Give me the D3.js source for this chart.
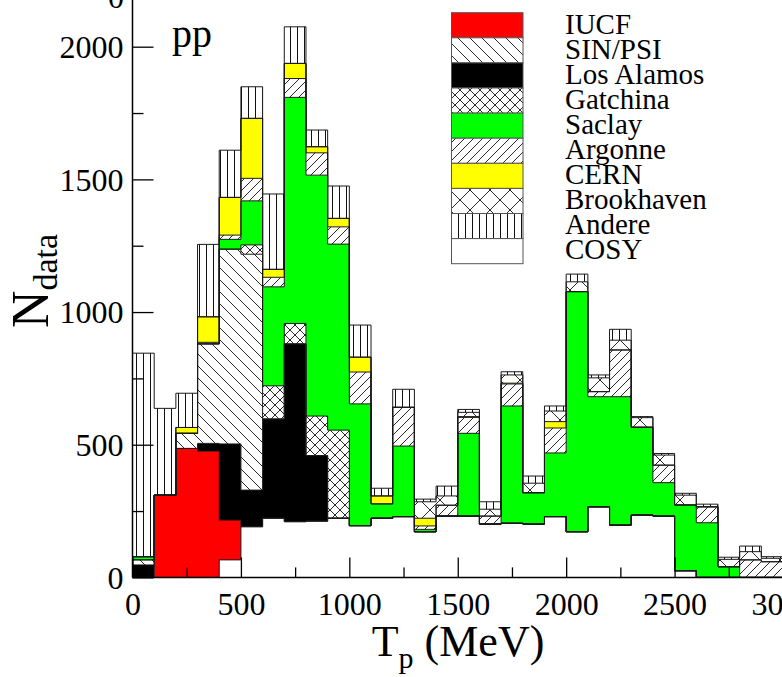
<!DOCTYPE html>
<html>
<head>
<meta charset="utf-8">
<script src="https://cdn.jsdelivr.net/npm/d3@7/dist/d3.min.js"></script>
<style>
  body { margin: 0; background: #fff; }
  svg { display: block; }
  text { font-family: "Liberation Serif", "Times New Roman", serif; fill: #000; }
</style>
</head>
<body>
<svg id="chart" width="782" height="677"></svg>
<script>
// Lower edge of each 100 MeV bin in T_p
const binStarts = [0, 100, 200, 300, 400, 500, 600, 700, 800, 900,
  1000, 1100, 1200, 1300, 1400, 1500, 1600, 1700, 1800, 1900,
  2000, 2100, 2200, 2300, 2400, 2500, 2600, 2700, 2800, 2900];
const binWidth = 100;

// Number of pp data per bin for each laboratory (stacked bottom to top)
const cosy       = [0, 0, 0, 0, 66, 191, 223, 210, 212, 223, 195, 223, 229, 172, 231, 231, 201, 204, 201, 229, 172, 266, 197, 235, 231, 25, 0, 0, 0, 0];
const iucf       = [0, 310, 486, 476, 150, 0, 0, 0, 0, 0, 0, 0, 0, 0, 0, 0, 0, 0, 0, 0, 0, 0, 0, 0, 0, 0, 0, 0, 0, 0];
const losAlamos  = [47, 0, 0, 29, 287, 138, 374, 670, 247, 0, 0, 0, 0, 0, 0, 0, 0, 0, 0, 0, 0, 0, 0, 0, 0, 0, 0, 0, 0, 0];
const sinPsi     = [19, 0, 57, 375, 734, 889, 0, 0, 0, 0, 0, 0, 0, 0, 0, 0, 0, 0, 0, 0, 0, 0, 0, 0, 0, 0, 0, 0, 0, 0];
const gatchina   = [0, 0, 0, 0, 0, 35, 125, 77, 149, 332, 0, 0, 0, 0, 0, 0, 0, 0, 0, 0, 0, 0, 0, 0, 0, 0, 0, 0, 0, 0];
const saclay     = [12, 0, 0, 0, 37, 166, 373, 852, 908, 701, 459, 54, 266, 9, 0, 312, 0, 442, 118, 240, 905, 415, 484, 331, 126, 248, 206, 40, 0, 0];
const argonne    = [0, 0, 0, 6, 16, 85, 36, 71, 84, 65, 120, 0, 146, 13, 41, 60, 30, 83, 0, 94, 0, 19, 176, 0, 66, 0, 60, 0, 66, 59];
const cern       = [0, 0, 22, 96, 142, 226, 30, 57, 23, 32, 56, 30, 0, 29, 0, 3, 0, 3, 0, 24, 0, 0, 0, 0, 0, 0, 0, 0, 0, 0];
const brookhaven = [0, 0, 0, 0, 0, 0, 0, 0, 0, 0, 0, 0, 0, 62, 35, 16, 26, 31, 36, 40, 37, 52, 37, 36, 38, 37, 0, 28, 31, 13];
const andere     = [767, 327, 129, 273, 178, 119, 284, 138, 63, 122, 121, 29, 68, 10, 37, 11, 28, 12, 27, 19, 29, 11, 41, 4, 6, 7, 10, 8, 21, 6];

const stackOrder  = ["COSY", "IUCF", "Los Alamos", "SIN/PSI", "Gatchina", "Saclay", "Argonne", "CERN", "Brookhaven", "Andere"];
const legendOrder = ["IUCF", "SIN/PSI", "Los Alamos", "Gatchina", "Saclay", "Argonne", "CERN", "Brookhaven", "Andere", "COSY"];

const xTicks = [0, 500, 1000, 1500, 2000, 2500, 3000];
const xMinorTicks = [250, 750, 1250, 1750, 2250, 2750];
const yTicks = [0, 500, 1000, 1500, 2000];
const yMinorTicks = [250, 750, 1250, 1750];

const seriesValues = {
  "COSY": cosy, "IUCF": iucf, "Los Alamos": losAlamos, "SIN/PSI": sinPsi,
  "Gatchina": gatchina, "Saclay": saclay, "Argonne": argonne, "CERN": cern,
  "Brookhaven": brookhaven, "Andere": andere
};

const rows = binStarts.map((s, i) => {
  const r = { start: s };
  stackOrder.forEach(k => r[k] = seriesValues[k][i]);
  return r;
});

const svg = d3.select("#chart");
const W = 782, H = 677;
const x = d3.scaleLinear().domain([0, 3000]).range([132.5, 783]);
const y = d3.scaleLinear().domain([0, 2176]).range([577.4, 0]);

// Fill patterns
const defs = svg.append("defs");
function hatch(id, size, pathD, width) {
  const p = defs.append("pattern").attr("id", id)
    .attr("patternUnits", "userSpaceOnUse")
    .attr("width", size).attr("height", size);
  p.append("rect").attr("width", size).attr("height", size).attr("fill", "#fff");
  p.append("path").attr("d", pathD).attr("stroke", "#111")
    .attr("stroke-width", width || 1).attr("fill", "none");
}
function back(s) { return `M0,0 L${s},${s} M${-2},${s - 2} L2,${s + 2} M${s - 2},-2 L${s + 2},2`; }
function fwd(s) { return `M0,${s} L${s},0 M-2,2 L2,-2 M${s - 2},${s + 2} L${s + 2},${s - 2}`; }
function cross(s) { return back(s) + " " + fwd(s); }
hatch("pSin", 12, back(12), 0.9);
hatch("pArg", 9, fwd(9), 0.9);
hatch("pGat", 10, cross(10), 0.9);
hatch("pBnl", 20, cross(20), 0.9);
hatch("pAnd", 7, "M3.5,0 V7", 1);

const fills = {
  "COSY": "#ffffff", "IUCF": "#ff0000", "Los Alamos": "#000000", "SIN/PSI": "url(#pSin)",
  "Gatchina": "url(#pGat)", "Saclay": "#00ff00", "Argonne": "url(#pArg)", "CERN": "#ffff00",
  "Brookhaven": "url(#pBnl)", "Andere": "url(#pAnd)"
};

svg.append("clipPath").attr("id", "plotClip")
  .append("rect").attr("x", 132.5).attr("y", 0).attr("width", 782 - 132.5).attr("height", 578);

const stacked = d3.stack().keys(stackOrder)(rows);

// Step outline points: one per bin plus the closing edge of the last bin
function stepPoints(layer) {
  const pts = layer.map((d, i) => ({ x: binStarts[i], y0: d[0], y1: d[1] }));
  const last = layer[layer.length - 1];
  pts.push({ x: binStarts[binStarts.length - 1] + binWidth, y0: last[0], y1: last[1] });
  return pts;
}

const area = d3.area().curve(d3.curveStepAfter)
  .x(d => x(d.x)).y0(d => y(d.y0)).y1(d => y(d.y1));
const line = d3.line().curve(d3.curveStepAfter)
  .x(d => x(d.x)).y(d => y(d.y1));

const plot = svg.append("g").attr("clip-path", "url(#plotClip)");
plot.selectAll("path.band").data(stacked).join("path")
  .attr("class", "band")
  .attr("d", L => area(stepPoints(L)))
  .attr("fill", L => fills[L.key]);
plot.selectAll("path.edge").data(stacked).join("path")
  .attr("class", "edge")
  .attr("d", L => line(stepPoints(L)))
  .attr("fill", "none").attr("stroke", "#1a1a1a").attr("stroke-width", 1);

// Axes with inward ticks
const gx = svg.append("g").attr("transform", `translate(0,${y(0)})`);
gx.call(d3.axisBottom(x).tickValues(xTicks).tickSize(-20).tickPadding(15).tickFormat(d3.format("d")));
gx.append("g").call(d3.axisBottom(x).tickValues(xMinorTicks).tickSize(-10).tickFormat(""));
const gy = svg.append("g").attr("transform", `translate(${x(0)},0)`);
gy.call(d3.axisLeft(y).tickValues(yTicks).tickSize(-21).tickPadding(9).tickFormat(d3.format("d")));
gy.append("g").call(d3.axisLeft(y).tickValues(yMinorTicks).tickSize(-11).tickFormat(""));

[gx, gy].forEach(g => {
  g.selectAll(".domain").remove();
  g.selectAll("line").attr("stroke", "#000").attr("stroke-width", 1.3);
  g.selectAll("text").style("font-family", '"Liberation Serif", serif').style("font-size", "32px").attr("fill", "#000");
});
gy.selectAll("text").attr("dy", "0.34em");
gx.selectAll("text").attr("dy", "0.71em");

svg.append("line").attr("x1", x(0)).attr("x2", x(0)).attr("y1", 0).attr("y2", y(0))
  .attr("stroke", "#000").attr("stroke-width", 1.5);
svg.append("line").attr("x1", x(0)).attr("x2", W).attr("y1", y(0)).attr("y2", y(0))
  .attr("stroke", "#000").attr("stroke-width", 1.5);

// Zero label of the panel stacked above
svg.append("text").attr("x", 124).attr("y", 8).attr("text-anchor", "end")
  .style("font-size", "32px").text("0");

// Axis titles
const xt = svg.append("text").attr("x", 458).attr("y", 656).attr("text-anchor", "middle").style("font-size", "44px");
xt.append("tspan").text("T");
xt.append("tspan").attr("dy", 12).style("font-size", "30px").text("p");
xt.append("tspan").attr("dy", -12).text(" (MeV)");

const yt = svg.append("text").attr("transform", "translate(48,281) rotate(-90)").attr("text-anchor", "middle").style("font-size", "52px");
yt.append("tspan").text("N");
yt.append("tspan").attr("dy", 9).style("font-size", "34px").text("data");

// Reaction label
svg.append("text").attr("x", 172).attr("y", 47).style("font-size", "40px").text("pp");

// Legend
const lg = svg.append("g");
const rowH = 25.1;
legendOrder.forEach((k, i) => {
  const top = 12.7 + i * rowH;
  lg.append("rect").attr("x", 451.5).attr("y", top).attr("width", 71.5).attr("height", rowH)
    .attr("fill", fills[k]).attr("stroke", "#555").attr("stroke-width", 1);
  lg.append("text").attr("x", 565).attr("y", top + 20.8).style("font-size", "29px").text(k);
});
</script>
</body>
</html>
